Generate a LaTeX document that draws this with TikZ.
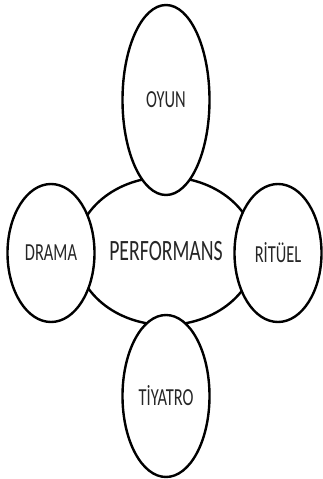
\documentclass[tikz,border=0pt]{standalone}
\usepackage{fontspec}
\setmainfont{Carlito}
\usetikzlibrary{shapes.geometric}

% narrow capitals, as in the figure
\newcommand{\narrowtext}[2]{\scalebox{0.67}[1]{\fontsize{#1}{#1}\selectfont #2}}

\begin{document}
\begin{tikzpicture}[
    x=1pt, y=1pt,
    bubble/.style={ellipse, draw=black, fill=white, line width=2.4pt, inner sep=0pt, text=black!85},
    core/.style={bubble, minimum width=180pt, minimum height=148pt},
    side/.style={bubble, minimum width=87pt, minimum height=138pt},
    tall/.style={bubble, minimum width=87pt},
]
    \useasboundingbox (0,0) rectangle (322,479);

    % central term first, the four around it lie on top
    \node[core] (perf) at (166,228) {\narrowtext{29.5}{PERFORMANS}};
    \node[tall, minimum height=190pt] (oyun) at (166,379) {\narrowtext{24.5}{OYUN}};
    \node[side] (drama) at (51,226) {\narrowtext{24.5}{DRAMA}};
    \node[side] (ritual) at (278,226) {\narrowtext{24.5}{RİTÜEL}};
    \node[tall, minimum height=162pt] (tiyatro) at (166,83) {\narrowtext{24.5}{TİYATRO}};
\end{tikzpicture}
\end{document}
